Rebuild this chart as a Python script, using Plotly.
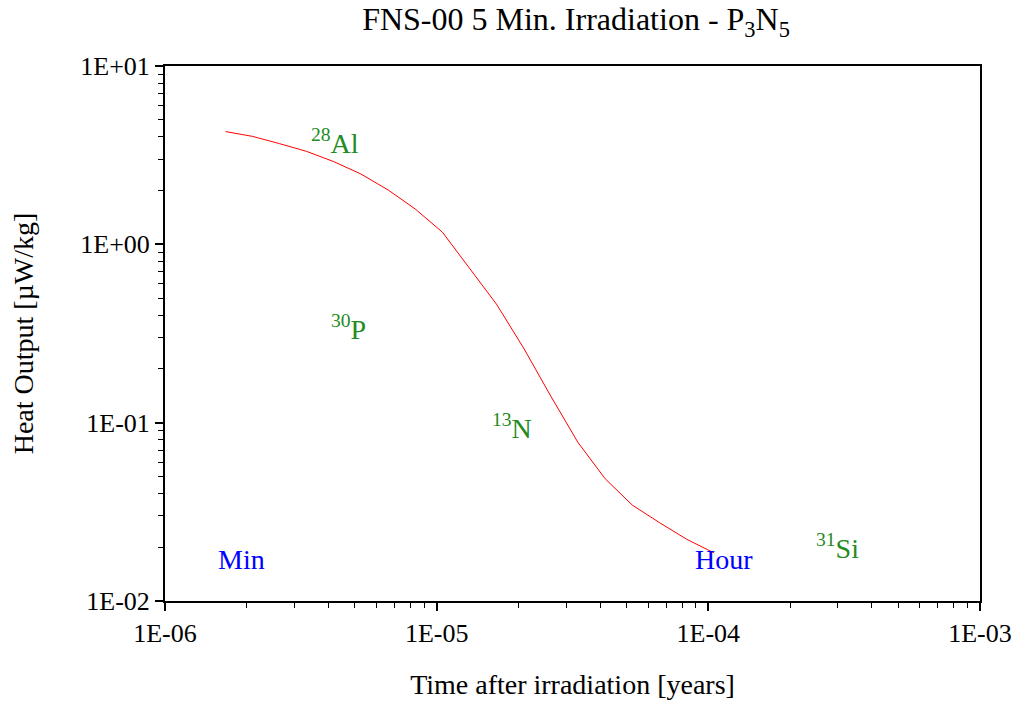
import plotly.graph_objects as go

# time after irradiation [years] and heat output [uW/kg]
time_years = [1.67e-6, 2.1e-6, 2.64e-6, 3.32e-6, 4.18e-6, 5.26e-6, 6.62e-6, 8.33e-6,
              1.05e-5, 1.32e-5, 1.66e-5, 2.09e-5, 2.63e-5, 3.31e-5, 4.17e-5,
              5.25e-5, 6.61e-5, 8.32e-5, 1.05e-4]
heat_output = [4.29, 4.03, 3.67, 3.32, 2.91, 2.48, 2.02, 1.58, 1.17, 0.741,
               0.462, 0.262, 0.141, 0.0776, 0.0485, 0.0345, 0.0275, 0.0222, 0.0186]

x_tickvals = [1e-6, 1e-5, 1e-4, 1e-3]
x_ticktext = ["1E-06", "1E-05", "1E-04", "1E-03"]
y_tickvals = [1e-2, 1e-1, 1e0, 1e1]
y_ticktext = ["1E-02", "1E-01", "1E+00", "1E+01"]

# nuclide labels (log10 positions)
nuclides = ["<sup>28</sup>Al", "<sup>30</sup>P", "<sup>13</sup>N", "<sup>31</sup>Si"]
nuc_x = [-5.374, -5.323, -4.723, -3.526]
nuc_y = [0.574, -0.464, -1.024, -1.692]

time_marks = ["Min", "Hour"]
mark_x = [-5.717, -3.942]
mark_y = [-1.77, -1.77]

font_family = "Liberation Serif, Times New Roman, serif"

fig = go.Figure()
fig.add_trace(go.Scatter(
    x=time_years, y=heat_output, mode="lines",
    line=dict(color="red", width=1), showlegend=False, hoverinfo="skip"
))

for txt, x, y in zip(nuclides, nuc_x, nuc_y):
    fig.add_annotation(x=x, y=y, text=txt, showarrow=False,
                       font=dict(color="#228B22", size=28, family=font_family))
for txt, x, y in zip(time_marks, mark_x, mark_y):
    fig.add_annotation(x=x, y=y, text=txt, showarrow=False,
                       font=dict(color="blue", size=28, family=font_family))

minor_x = [m * 10.0 ** d for d in range(-6, -3) for m in range(2, 10)]
minor_y = [m * 10.0 ** d for d in range(-2, 1) for m in range(2, 10)]

axis_common = dict(
    showline=True, linecolor="black", linewidth=2, mirror=True,
    ticks="outside", ticklen=8, tickwidth=2, tickcolor="black",
    showgrid=False, zeroline=False,
    tickfont=dict(size=26, family=font_family, color="black"),
)

fig.update_xaxes(type="log", range=[-6, -3], tickvals=x_tickvals, ticktext=x_ticktext,
                 minor=dict(tickvals=minor_x, ticks="outside", ticklen=5, tickwidth=1,
                            tickcolor="black", showgrid=False),
                 title=dict(text="Time after irradiation [years]",
                            font=dict(size=28, family=font_family, color="black"),
                            standoff=27),
                 **axis_common)
fig.update_yaxes(type="log", range=[-2, 1], tickvals=y_tickvals, ticktext=y_ticktext,
                 minor=dict(tickvals=minor_y, ticks="outside", ticklen=5, tickwidth=1,
                            tickcolor="black", showgrid=False),
                 title=dict(text="Heat Output [µW/kg]",
                            font=dict(size=28, family=font_family, color="black"),
                            standoff=38),
                 **axis_common)

fig.update_layout(
    width=1022, height=707,
    margin=dict(l=165, r=42, t=66, b=106, autoexpand=False),
    paper_bgcolor="white", plot_bgcolor="white",
    title=dict(text="FNS-00 5 Min. Irradiation - P<sub>3</sub>N<sub>5</sub>",
               x=576 / 1022, xanchor="center", y=1 - 19 / 707, yanchor="middle",
               font=dict(size=32, family=font_family, color="black")),
    showlegend=False,
)

fig.write_html("out.html", config={"displayModeBar": False},
               post_script="document.body.style.margin='0';")
